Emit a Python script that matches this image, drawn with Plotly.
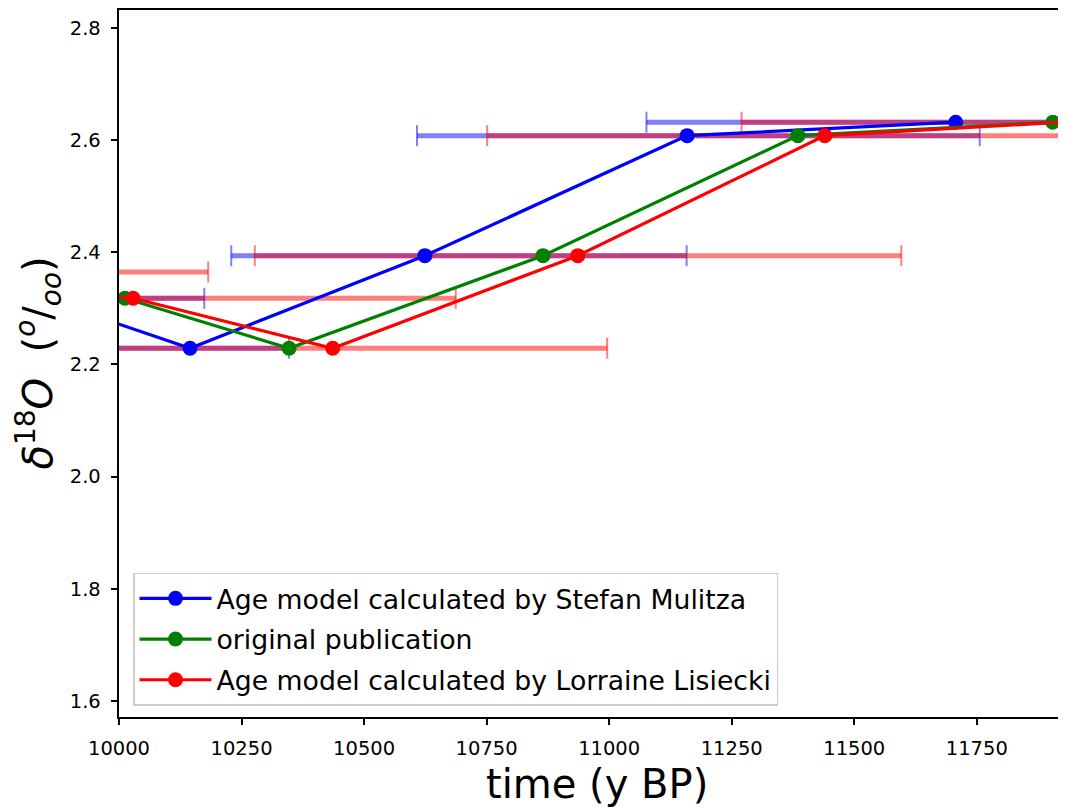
import plotly.graph_objects as go

# ---- data ----
d18o = [2.365, 2.318, 2.229, 2.394, 2.608, 2.632]

age_mulitza = [9540, 9845, 10145, 10624, 11159, 11707]
mulitza_lo = [9230, 9520, 9850, 10229, 10608, 11076]
mulitza_hi = [9860, 10174, 10347, 11158, 11756, 12330]

age_original = [9690, 10012, 10347, 10865, 11385, 11905]

age_lisiecki = [9525, 10029, 10436, 10936, 11440, 11928]
lisiecki_lo = [8865, 9370, 9876, 10277, 10751, 11270]
lisiecki_hi = [10182, 10687, 10996, 11596, 12130, 12600]

x_ticks = [10000, 10250, 10500, 10750, 11000, 11250, 11500, 11750]
y_ticks = [1.6, 1.8, 2.0, 2.2, 2.4, 2.6, 2.8]

names = ["Age model calculated by Stefan Mulitza",
         "original publication",
         "Age model calculated by Lorraine Lisiecki"]

FONT = "DejaVu Sans"
BLUE_A = "rgba(0,0,255,0.5)"
RED_A = "rgba(255,0,0,0.5)"

fig = go.Figure()


def add_errors(age, lo, hi, col):
    plus = [h - a for a, h in zip(age, hi)]
    minus = [a - l for a, l in zip(age, lo)]
    fig.add_trace(go.Scatter(
        x=age, y=d18o, mode="markers",
        marker=dict(size=1, color="rgba(0,0,0,0)"),
        error_x=dict(type="data", symmetric=False, array=plus, arrayminus=minus,
                     color=col, thickness=5, width=0),
        showlegend=False, hoverinfo="skip"))
    fig.add_trace(go.Scatter(
        x=lo + hi, y=d18o + d18o, mode="markers",
        marker=dict(symbol="line-ns", size=15, color=col,
                    line=dict(color=col, width=2)),
        showlegend=False, hoverinfo="skip"))


add_errors(age_mulitza, mulitza_lo, mulitza_hi, BLUE_A)
add_errors(age_lisiecki, lisiecki_lo, lisiecki_hi, RED_A)

for i, (age, col, nm) in enumerate([(age_mulitza, "#0000ff", names[0]),
                                    (age_original, "#008000", names[1]),
                                    (age_lisiecki, "#ff0000", names[2])]):
    fig.add_trace(go.Scatter(
        x=age, y=d18o, mode="lines+markers", name=nm, legendgroup=f"g{i}",
        line=dict(color=col, width=3.2),
        marker=dict(color=col, size=15)))

axis_common = dict(showgrid=False, zeroline=False, showline=True,
                   linecolor="black", linewidth=1.7, ticks="outside",
                   ticklen=6.5, tickwidth=1.6, tickcolor="black",
                   ticklabelstandoff=6,
                   tickfont=dict(family=FONT, size=19.5, color="black"))

# the page body has an 8px margin, so the figure is 8px smaller than the
# window and its margins are shifted to keep the plot area in place
fig.update_layout(
    width=1058, height=799,
    margin=dict(l=111, r=0, t=2, b=90),
    paper_bgcolor="white", plot_bgcolor="white",
    font=dict(family=FONT, color="black"),
    xaxis=dict(range=[10000, 11932], tickvals=x_ticks,
               ticktext=[str(v) for v in x_ticks], mirror=True, **axis_common),
    yaxis=dict(range=[1.5715, 2.832], tickvals=y_ticks,
               ticktext=[f"{v:.1f}" for v in y_ticks], **axis_common),
    legend=dict(x=0.0148, y=0.0156, xanchor="left", yanchor="bottom",
                bgcolor="rgba(255,255,255,0.8)", bordercolor="#cccccc",
                borderwidth=1.5, font=dict(family=FONT, size=26.7, color="black"),
                itemwidth=72, tracegroupgap=3),
    annotations=[
        dict(text="time (y BP)", xref="paper", yref="paper", x=0.5, y=0,
             xshift=4, yshift=-67, xanchor="center", yanchor="middle",
             showarrow=False, font=dict(family=FONT, size=40, color="black")),
        dict(text="<i>δ</i><sup>18</sup><i>O</i>  (<sup><i>o</i></sup>/<sub><i>oo</i></sub>)",
             xref="paper", yref="paper", x=0, y=0.5, xshift=-81,
             xanchor="center", yanchor="middle", textangle=-90,
             showarrow=False, font=dict(family=FONT, size=40, color="black")),
    ],
)

fig.write_html("out.html")
